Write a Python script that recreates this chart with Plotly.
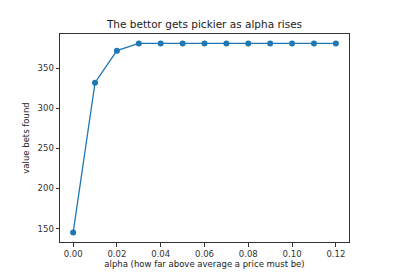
import plotly.graph_objects as go

alpha = [0.00, 0.01, 0.02, 0.03, 0.04, 0.05, 0.06, 0.07, 0.08, 0.09, 0.10, 0.11, 0.12]
bets = [145, 332, 372, 381, 381, 381, 381, 381, 381, 381, 381, 381, 381]
x_ticks = [0.00, 0.02, 0.04, 0.06, 0.08, 0.10, 0.12]
y_ticks = [150, 200, 250, 300, 350]

fig = go.Figure(go.Scatter(
    x=alpha, y=bets, mode="lines+markers",
    line=dict(color="#1f77b4", width=1.3),
    marker=dict(color="#1f77b4", size=6),
))

font = "DejaVu Sans"
axis_common = dict(
    showline=True, linecolor="#333333", linewidth=1, mirror=True,
    ticks="outside", ticklen=3.5, tickcolor="#333333", tickwidth=1,
    showgrid=False, zeroline=False,
    tickfont=dict(family=font, size=8.5, color="#333333"),
)
fig.update_layout(
    width=400, height=280,
    margin=dict(l=60, r=51, t=34, b=31),
    paper_bgcolor="white", plot_bgcolor="white",
    showlegend=False,
    title=dict(text="The bettor gets pickier as alpha rises", x=0.5, xref="paper", xanchor="center",
               y=1 - 24 / 280, yanchor="middle",
               font=dict(family=font, size=10.5, color="#222222")),
    xaxis=dict(range=[-0.006, 0.126], tickvals=x_ticks, ticktext=[f"{v:.2f}" for v in x_ticks],
               title=dict(text="alpha (how far above average a price must be)", standoff=3,
                          font=dict(family=font, size=8.5, color="#222222")),
               **axis_common),
    yaxis=dict(range=[133.2, 392.8], tickvals=y_ticks, ticktext=[str(v) for v in y_ticks],
               title=dict(text="value bets found", standoff=6,
                          font=dict(family=font, size=8.5, color="#222222")),
               **axis_common),
)
fig.write_html("out.html")
